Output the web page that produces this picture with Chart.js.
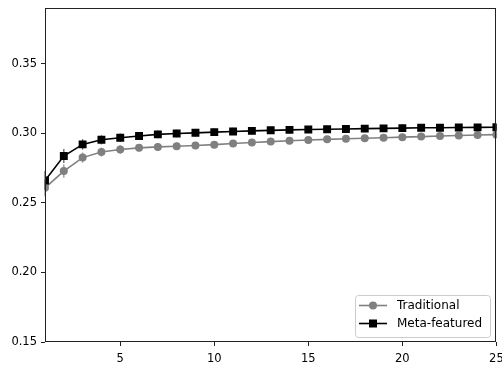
<!DOCTYPE html>
<html>
<head>
<meta charset="utf-8">
<script src="https://cdn.jsdelivr.net/npm/chart.js@4"></script>
<style>
  html, body { margin: 0; padding: 0; background: #fff; }
  #wrap { width: 502px; height: 365px; }
</style>
</head>
<body>
<div id="wrap"><canvas id="perfChart" width="502" height="365"></canvas></div>
<script>
// data
const steps = [1,2,3,4,5,6,7,8,9,10,11,12,13,14,15,16,17,18,19,20,21,22,23,24,25];
const traditional = [0.2608,0.2728,0.2825,0.2865,0.2883,0.2895,0.2902,0.2907,0.2912,0.2918,0.2926,0.2933,0.2940,0.2946,0.2951,0.2956,0.2960,0.2964,0.2968,0.2972,0.2976,0.2980,0.2984,0.2987,0.2990];
const traditionalErr = [0.0060,0.0048,0.0036,0.0032,0.0030,0.0028,0.0027,0.0026,0.0026,0.0025,0.0025,0.0025,0.0024,0.0024,0.0024,0.0024,0.0024,0.0024,0.0024,0.0024,0.0024,0.0024,0.0024,0.0024,0.0024];
const metaFeatured = [0.2660,0.2836,0.2920,0.2953,0.2968,0.2980,0.2992,0.2998,0.3003,0.3008,0.3013,0.3017,0.3021,0.3024,0.3027,0.3029,0.3031,0.3033,0.3035,0.3037,0.3039,0.3040,0.3041,0.3042,0.3043];
const metaFeaturedErr = [0.0068,0.0050,0.0038,0.0033,0.0031,0.0029,0.0028,0.0027,0.0027,0.0026,0.0026,0.0026,0.0025,0.0025,0.0025,0.0025,0.0025,0.0025,0.0025,0.0025,0.0025,0.0025,0.0025,0.0025,0.0025];
const xTicks = [5, 10, 15, 20, 25];
const yTicks = [0.15, 0.20, 0.25, 0.30, 0.35];

const font = { family: "'DejaVu Sans', sans-serif", size: 11.5 };

function toPoints(vals) {
  return steps.map((s, i) => ({ x: s, y: vals[i] }));
}

// vertical error bars, drawn under the lines
const errorBars = {
  id: "errorBars",
  beforeDatasetsDraw(chart) {
    const { ctx, scales: { x, y } } = chart;
    const sets = [
      { vals: traditional, err: traditionalErr, color: "rgba(128,128,128,0.85)" },
      { vals: metaFeatured, err: metaFeaturedErr, color: "rgba(70,70,70,0.85)" }
    ];
    ctx.save();
    ctx.lineWidth = 1.3;
    sets.forEach(s => {
      ctx.strokeStyle = s.color;
      steps.forEach((st, i) => {
        const px = x.getPixelForValue(st);
        ctx.beginPath();
        ctx.moveTo(px, y.getPixelForValue(s.vals[i] - s.err[i]));
        ctx.lineTo(px, y.getPixelForValue(s.vals[i] + s.err[i]));
        ctx.stroke();
      });
    });
    ctx.restore();
  }
};

// box around the plot + legend in lower right
const frameAndLegend = {
  id: "frameAndLegend",
  afterDraw(chart) {
    const { ctx, chartArea: a } = chart;
    ctx.save();
    ctx.strokeStyle = "#222";
    ctx.lineWidth = 1;
    ctx.strokeRect(Math.round(a.left) + 0.5, Math.round(a.top) + 0.5,
                   Math.round(a.right - a.left) - 1, Math.round(a.bottom - a.top) - 1);

    const bx = 355, by = 295, bw = 135, bh = 42, r = 3;
    ctx.fillStyle = "rgba(255,255,255,0.8)";
    ctx.strokeStyle = "#cccccc";
    ctx.beginPath();
    ctx.roundRect(bx + 0.5, by + 0.5, bw, bh, r);
    ctx.fill();
    ctx.stroke();

    const items = [
      { label: "Traditional", color: "#808080", style: "circle", y: 305.5 },
      { label: "Meta-featured", color: "#000000", style: "rect", y: 323.5 }
    ];
    items.forEach(it => {
      ctx.strokeStyle = it.color;
      ctx.fillStyle = it.color;
      ctx.lineWidth = 1.6;
      ctx.beginPath();
      ctx.moveTo(359, it.y);
      ctx.lineTo(387, it.y);
      ctx.stroke();
      if (it.style === "circle") {
        ctx.beginPath();
        ctx.arc(373, it.y, 4, 0, Math.PI * 2);
        ctx.fill();
      } else {
        ctx.fillRect(369, it.y - 4, 8, 8);
      }
      ctx.fillStyle = "#000";
      ctx.font = "12px 'DejaVu Sans', sans-serif";
      ctx.textBaseline = "middle";
      ctx.textAlign = "left";
      ctx.fillText(it.label, 397, it.y + 0.5);
    });
    ctx.restore();
  }
};

const ctx = document.getElementById("perfChart").getContext("2d");
new Chart(ctx, {
  type: "line",
  data: {
    datasets: [
      {
        label: "Traditional",
        data: toPoints(traditional),
        borderColor: "#808080",
        backgroundColor: "#808080",
        borderWidth: 1.6,
        pointStyle: "circle",
        pointRadius: 4,
        pointBorderWidth: 0,
        order: 2
      },
      {
        label: "Meta-featured",
        data: toPoints(metaFeatured),
        borderColor: "#000000",
        backgroundColor: "#000000",
        borderWidth: 1.6,
        pointStyle: "rect",
        pointRadius: 5.6,
        pointBorderWidth: 0,
        order: 1
      }
    ]
  },
  options: {
    responsive: false,
    animation: false,
    layout: { padding: { top: 8, right: 5, left: 0, bottom: 0 } },
    scales: {
      x: {
        type: "linear",
        min: 1,
        max: 25,
        afterBuildTicks: scale => { scale.ticks = xTicks.map(v => ({ value: v })); },
        afterFit: scale => {
          scale.height = 23;
          scale.paddingLeft = 0;
          scale.paddingRight = 0;
        },
        grid: { drawOnChartArea: false, drawTicks: true, tickLength: 4, tickColor: "#222" },
        border: { display: false },
        ticks: { color: "#000", font: font, padding: 6, maxRotation: 0 }
      },
      y: {
        min: 0.15,
        max: 0.39,
        afterBuildTicks: scale => { scale.ticks = yTicks.map(v => ({ value: v })); },
        afterFit: scale => {
          scale.width = 45;
          scale.paddingTop = 0;
          scale.paddingBottom = 0;
        },
        grid: { drawOnChartArea: false, drawTicks: true, tickLength: 4, tickColor: "#222" },
        border: { display: false },
        ticks: { color: "#000", font: font, padding: 4, callback: v => v.toFixed(2) }
      }
    },
    plugins: {
      legend: { display: false },
      tooltip: { enabled: false }
    }
  },
  plugins: [errorBars, frameAndLegend]
});
</script>
</body>
</html>
